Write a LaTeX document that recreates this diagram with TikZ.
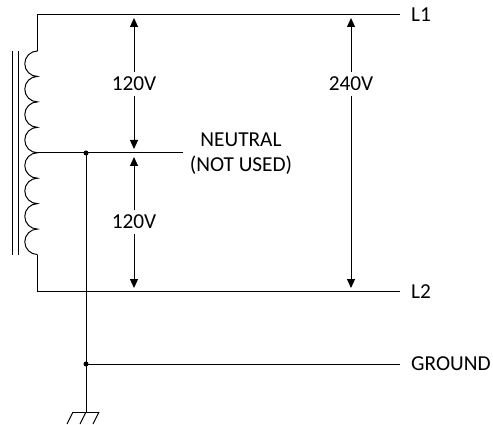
\documentclass[tikz,border=0pt]{standalone}
\usepackage{fontspec}
\setmainfont{Carlito}
\usetikzlibrary{arrows.meta}
\begin{document}
\begin{tikzpicture}[x=1pt,y=-1pt]
  \tikzset{wire/.style = {draw,line width=1pt}}
  \tikzset{volt/.style = {shape=rectangle,inner xsep=2pt,inner ysep=4.5pt,font=\fontsize{21.3}{25}\selectfont}}
  \tikzset{wirelabel/.style = {shape=rectangle,anchor=west,inner xsep=11pt,inner ysep=0pt,font=\fontsize{21.3}{25}\selectfont}}
  \tikzset{dot/.style = {shape=circle,fill=black,inner sep=0pt,minimum size=5pt}}
  \tikzset{%
  tipA/.tip={Triangle[width=8pt,length=9pt]},
}
  \useasboundingbox (0,0) rectangle (493,425);

	\coordinate (T1) at (37.5,14.5);
	\coordinate (T2) at (37.5,51);
	\coordinate (B1) at (37.5,254.5);
	\coordinate (B2) at (37.5,291.5);
	\coordinate (N) at (37.5,153);
	\coordinate (NE) at (183,153);
	\coordinate (GE) at (86,412);
	\coordinate (GL) at (73,412);
	\coordinate (GR) at (99,412);
	\coordinate (GL1) at (67,424);
	\coordinate (GE1) at (80,424);
	\coordinate (GR1) at (93,424);
	\coordinate (CT1) at (12,51);
	\coordinate (CB1) at (12,254.5);
	\coordinate (CT2) at (18,51);
	\coordinate (CB2) at (18,254.5);

	\node[wirelabel] (L1) at (400,14.5) {L1};
	\node[wirelabel] (L2) at (400,291.5) {L2};
	\node[wirelabel] (GND) at (400,364) {GROUND};
	\node[font=\fontsize{21.3}{25}\selectfont,align=center,inner sep=0pt] (NL) at (241,153.5) {NEUTRAL\\(NOT USED)};

	\node[volt] (V1) at (134,84) {120V};
	\node[volt] (V2) at (134,222) {120V};
	\node[volt] (V3) at (351,84) {240V};

	\coordinate (A1) at (134,18);
	\coordinate (A2) at (134,149);
	\coordinate (A3) at (134,157);
	\coordinate (A4) at (134,288);
	\coordinate (A5) at (351,18);
	\coordinate (A6) at (351,288);

	\node[dot] (D1) at (86,153) {};
	\node[dot] (D2) at (86,364) {};

	\draw[wire] (L1.west) -- (T1) -- (T2);
	\draw[wire] (B1) -- (B2) -- (L2.west);
	\draw[wire] (N) -- (NE);
	\draw[wire] (D1.center) -- (GE);
	\draw[wire] (D2.center) -- (GND.west);
	\draw[wire] (GL) -- (GR);

	\draw[line width=1pt] (T2) foreach \i in {1,...,8} {arc[start angle=-90,end angle=-270,radius=12.72]};

	\foreach \from/\to in {CT1/CB1,CT2/CB2,GL/GL1,GE/GE1,GR/GR1}
	\path[wire](\from) edge (\to);

	\foreach \from/\to in {V1/A1,V1/A2,V2/A3,V2/A4,V3/A5,V3/A6}
	\path[wire,-tipA](\from) edge (\to);

\end{tikzpicture}
\end{document}
